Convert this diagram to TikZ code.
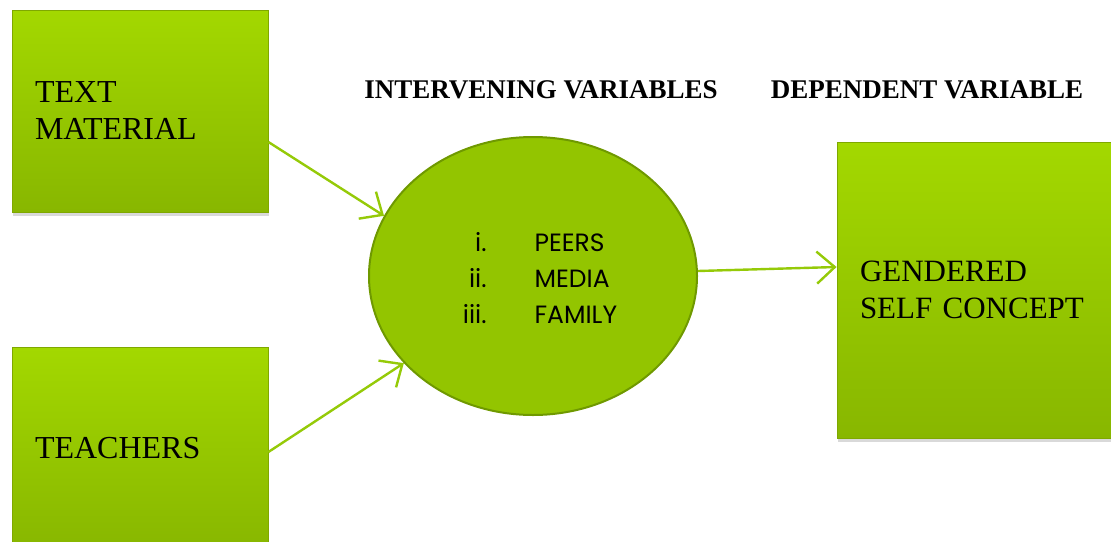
\documentclass[tikz,border=0pt]{standalone}
\usepackage{fontspec}
\setmainfont{Liberation Serif}
\newfontfamily\gothicfont{Poppins}
\usepackage{tikz}
\usetikzlibrary{shapes.geometric,arrows.meta,shadows}

\definecolor{leaftop}{HTML}{A3D800}
\definecolor{leafbottom}{HTML}{88B700}
\definecolor{leafedge}{HTML}{7FA800}
\definecolor{blobfill}{HTML}{93C500}
\definecolor{blobedge}{HTML}{6F9900}
\definecolor{linkgreen}{HTML}{95CA08}

\begin{document}
\begin{tikzpicture}[
  % one unit is one pixel of the sheet, y runs downward
  x=1pt,
  y=-1pt,
  factorbox/.style={rectangle, top color=leaftop, bottom color=leafbottom,
    draw=leafedge, line width=0.8pt, inner xsep=23pt, inner ysep=0pt,
    align=left, font=\fontsize{32}{37}\selectfont,
    drop shadow={shadow xshift=1pt, shadow yshift=-4pt, opacity=0.3}},
  link/.style={draw=linkgreen, line width=2.4pt,
    -{Straight Barb[length=18pt, width=32pt, line width=2.4pt]}},
  heading/.style={font=\fontsize{27}{30}\selectfont\bfseries}
]
\useasboundingbox (0,0) rectangle (1111,541);

% 1) Independent variables on the left
\node[factorbox, text width=210pt, minimum height=202pt] (material) at (140,111)
  {TEXT\\MATERIAL};
\node[factorbox, text width=210pt, minimum height=202pt] (teachers) at (140,448)
  {TEACHERS};

% 2) Intervening variables in the ellipse
\node[ellipse, fill=blobfill, draw=blobedge, line width=2pt,
  minimum width=328pt, minimum height=278pt] (intervening) at (533,276) {};
\node[font=\gothicfont\fontsize{25}{36}\selectfont, inner sep=0pt]
  (varlist) at (540,280)
  {\begin{tabular}{@{}r@{\hspace{48pt}}l@{}}
    i.   & PEERS\\
    ii.  & MEDIA\\
    iii. & FAMILY
  \end{tabular}};

% 3) Dependent variable on the right (runs past the sheet edge)
\node[factorbox, text width=248pt, minimum height=296pt, font=\fontsize{31}{37}\selectfont]
  (concept) at (984,290) {GENDERED\\SELF CONCEPT};

% 4) Column headings
\node[heading] (interhead) at (541,90) {INTERVENING VARIABLES};
\node[heading] (dephead) at (927,90) {DEPENDENT VARIABLE};

% 5) Arrows
\draw[link] ([yshift=-31pt]material.east) -- (intervening.158);
\draw[link] ([yshift=-4pt]teachers.east) -- (intervening.214);
\draw[link] ([yshift=5pt]intervening.east) -- ([yshift=23pt]concept.west);

\end{tikzpicture}
\end{document}
